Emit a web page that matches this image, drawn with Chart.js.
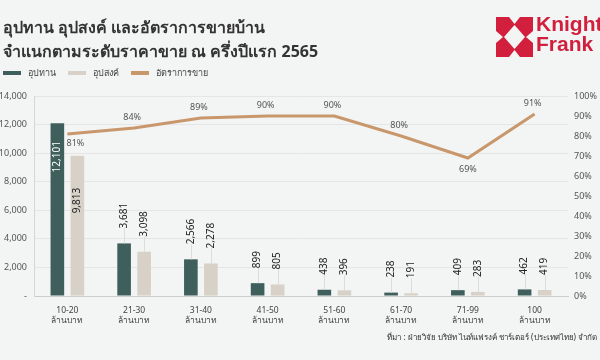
<!DOCTYPE html>
<html><head><meta charset="utf-8">
<script src="https://cdn.jsdelivr.net/npm/chart.js@4.4.0/dist/chart.umd.min.js"></script>
<style>
html,body{margin:0;padding:0;background:#f3f4f4;}
#wrap{position:relative;width:600px;height:360px;overflow:hidden;background:#f3f4f4;font-family:'Noto Sans',sans-serif;}
#c{position:absolute;left:0;top:0;}
#title{position:absolute;left:3px;top:15px;font-size:16px;font-weight:700;color:#333;line-height:24px;white-space:nowrap;}
#legend{position:absolute;left:3px;top:66px;font-size:9px;color:#444;display:flex;align-items:center;white-space:nowrap;}
#legend .sw{display:inline-block;width:18px;height:4px;margin-right:7px;}
#legend .it{display:flex;align-items:center;margin-right:12px;}
#logo{position:absolute;left:496px;top:17px;}
#logotext{position:absolute;left:536px;top:14px;color:#d11f3d;font-family:'Liberation Sans Narrow','Liberation Sans',sans-serif;font-stretch:condensed;font-weight:700;font-size:21px;line-height:20px;}
#source{position:absolute;right:3px;top:331px;font-size:8px;color:#333;white-space:nowrap;}
</style></head>
<body><div id="wrap">
<canvas id="c" width="600" height="360"></canvas>
<div id="title">อุปทาน อุปสงค์ และอัตราการขายบ้าน<br>จำแนกตามระดับราคาขาย ณ ครึ่งปีแรก 2565</div>
<div id="legend">
<span class="it"><span class="sw" style="background:#3f5f5c"></span>อุปทาน</span>
<span class="it"><span class="sw" style="background:#d7d1c7"></span>อุปสงค์</span>
<span class="it"><span class="sw" style="background:#c9976c"></span>อัตราการขาย</span>
</div>
<svg id="logo" width="37" height="40" viewBox="0 0 37 40">
<rect x="0" y="0" width="37" height="40" fill="#d11f3d"/>
<polygon points="18.5,8 29,20 18.5,32 8,20" fill="#f3f4f4"/>
<polygon points="13,0 24,0 18.5,7" fill="#f3f4f4"/>
<polygon points="13,40 24,40 18.5,33" fill="#f3f4f4"/>
<polygon points="0,14 0,26 7,20" fill="#f3f4f4"/>
<polygon points="37,14 37,26 30,20" fill="#f3f4f4"/>
</svg>
<div id="logotext">Knight<br>Frank</div>
<div id="source">ที่มา : ฝ่ายวิจัย บริษัท ไนท์แฟรงค์ ชาร์เตอร์ (ประเทศไทย) จำกัด</div>
</div>
<script>
const categories = [['10-20','ล้านบาท'],['21-30','ล้านบาท'],['31-40','ล้านบาท'],['41-50','ล้านบาท'],['51-60','ล้านบาท'],['61-70','ล้านบาท'],['71-99','ล้านบาท'],['100','ล้านบาท']];
const supply = [12101, 3681, 2566, 899, 438, 238, 409, 462];
const demand = [9813, 3098, 2278, 805, 396, 191, 283, 419];
const salesRate = [81, 84, 89, 90, 90, 80, 69, 91];
const leftTickLabels = ['-', '2,000', '4,000', '6,000', '8,000', '10,000', '12,000', '14,000'];
const rightTickLabels = ['0%', '10%', '20%', '30%', '40%', '50%', '60%', '70%', '80%', '90%', '100%'];
const seriesNames = ['อุปทาน', 'อุปสงค์', 'อัตราการขาย'];

// label placement style for the line labels
const rateLabelPlace = ['belowRight', 'above', 'above', 'above', 'above', 'above', 'below', 'above'];
const insideOffset = [18, 32];

const labelPlugin = {
  id: 'labels',
  afterDatasetsDraw(chart) {
    const ctx = chart.ctx;
    ctx.save();
    [0, 1].forEach(di => {
      const meta = chart.getDatasetMeta(di);
      const data = chart.data.datasets[di].data;
      meta.data.forEach((el, i) => {
        const txt = data[i].toLocaleString('en-US');
        const h = el.base - el.y;
        ctx.font = '10px "Noto Sans"';
        const w = ctx.measureText(txt).width;
        ctx.save();
        if (h > 100) {
          ctx.translate(el.x, el.y + insideOffset[di] + w / 2);
          ctx.rotate(-Math.PI / 2);
          ctx.fillStyle = di === 0 ? '#ffffff' : '#222';
          ctx.textAlign = 'center'; ctx.textBaseline = 'middle';
          ctx.fillText(txt, 0, 0);
        } else {
          const gap = 15;
          ctx.strokeStyle = '#dcdcdc'; ctx.lineWidth = 1;
          ctx.beginPath(); ctx.moveTo(Math.round(el.x) + 0.5, el.y); ctx.lineTo(Math.round(el.x) + 0.5, el.y - gap); ctx.stroke();
          ctx.translate(el.x, el.y - gap - w / 2);
          ctx.rotate(-Math.PI / 2);
          ctx.fillStyle = '#222';
          ctx.textAlign = 'center'; ctx.textBaseline = 'middle';
          ctx.fillText(txt, 0, 0);
        }
        ctx.restore();
      });
    });
    const lm = chart.getDatasetMeta(2);
    ctx.font = '9px "Noto Sans"';
    ctx.fillStyle = '#555';
    ctx.textBaseline = 'middle';
    lm.data.forEach((p, i) => {
      const txt = salesRate[i] + '%';
      const pl = rateLabelPlace[i];
      ctx.textAlign = 'center';
      if (pl === 'above') ctx.fillText(txt, p.x - 2, p.y - 11);
      else if (pl === 'below') ctx.fillText(txt, p.x, p.y + 11);
      else ctx.fillText(txt, p.x + 8, p.y + 9);
    });
    ctx.restore();
  }
};

new Chart(document.getElementById('c'), {
  data: {
    labels: categories,
    datasets: [
      { type: 'bar', label: seriesNames[0], data: supply, backgroundColor: '#3f5f5c', yAxisID: 'y', order: 2, categoryPercentage: 0.6, barPercentage: 0.68 },
      { type: 'bar', label: seriesNames[1], data: demand, backgroundColor: '#d7d1c7', yAxisID: 'y', order: 2, categoryPercentage: 0.6, barPercentage: 0.68 },
      { type: 'line', label: seriesNames[2], data: salesRate, borderColor: '#c9976c', borderWidth: 3, pointRadius: 0, tension: 0, yAxisID: 'y1', order: 1 }
    ]
  },
  options: {
    responsive: false, animation: false,
    layout: { padding: { top: 96, left: 0, right: 0, bottom: 0 } },
    plugins: { legend: { display: false }, tooltip: { enabled: false } },
    scales: {
      x: {
        grid: { display: false, drawTicks: false },
        border: { color: '#cccccc' },
        ticks: { padding: 9, color: '#444', font: { family: 'Noto Sans', size: 8.5 }, maxRotation: 0, autoSkip: false },
        afterFit(s) { s.height = 64; }
      },
      y: {
        position: 'left', min: 0, max: 14000,
        ticks: { stepSize: 2000, padding: 7, color: '#555', font: { family: 'Noto Sans', size: 9 },
          callback: (v, i) => leftTickLabels[i] },
        grid: { color: '#e5e5e5', drawTicks: false },
        border: { color: '#d6d6d6' },
        afterFit(s) { s.width = 34; }
      },
      y1: {
        position: 'right', min: 0, max: 100,
        ticks: { stepSize: 10, padding: 6, color: '#555', font: { family: 'Noto Sans', size: 9 },
          callback: (v, i) => rightTickLabels[i] },
        grid: { display: false, drawTicks: false },
        border: { display: false },
        afterFit(s) { s.width = 32; }
      }
    }
  },
  plugins: [labelPlugin]
});
</script>
</body></html>
